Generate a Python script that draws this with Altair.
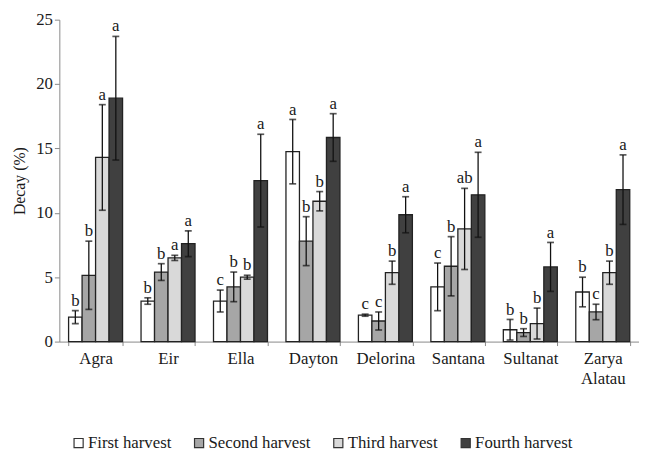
import altair as alt
import pandas as pd

cultivars = ["Agra", "Eir", "Ella", "Dayton", "Delorina", "Santana", "Sultanat", "Zarya Alatau"]
harvests = ["First harvest", "Second harvest", "Third harvest", "Fourth harvest"]

first = [1.9, 3.15, 3.15, 14.75, 2.05, 4.25, 0.92, 3.85]
first_err = [0.5, 0.25, 0.85, 2.5, 0.08, 1.85, 0.8, 1.15]
first_letters = ["b", "b", "c", "a", "c", "c", "b", "b"]

second = [5.15, 5.4, 4.25, 7.8, 1.6, 5.85, 0.7, 2.3]
second_err = [2.65, 0.65, 1.15, 1.9, 0.7, 2.3, 0.3, 0.6]
second_letters = ["b", "b", "b", "b", "c", "b", "b", "c"]

third = [14.3, 6.5, 5.0, 10.9, 5.35, 8.75, 1.4, 5.35]
third_err = [4.1, 0.2, 0.15, 0.75, 0.9, 3.15, 1.2, 0.9]
third_letters = ["a", "a", "b", "b", "b", "ab", "b", "b"]

fourth = [18.9, 7.6, 12.5, 15.85, 9.85, 11.4, 5.8, 11.8]
fourth_err = [4.8, 1.0, 3.6, 1.85, 1.4, 3.3, 1.9, 2.7]
fourth_letters = ["a", "a", "a", "a", "a", "a", "a", "a"]

colors = ["#ffffff", "#a6a6a6", "#d9d9d9", "#404040"]

rows = []
for h, vals, errs, lets in zip(
    harvests,
    [first, second, third, fourth],
    [first_err, second_err, third_err, fourth_err],
    [first_letters, second_letters, third_letters, fourth_letters],
):
    for c, v, e, l in zip(cultivars, vals, errs, lets):
        rows.append({"cultivar": c, "harvest": h, "value": v,
                     "lo": max(v - e, 0), "hi": v + e, "letter": l})
df = pd.DataFrame(rows)

FONT = "Liberation Serif, Times New Roman, serif"
TXT = "#1a1a1a"

x_enc = alt.X(
    "cultivar:N", sort=cultivars, title=None,
    scale=alt.Scale(paddingInner=0.255, paddingOuter=0.1275),
    axis=alt.Axis(labelAngle=0, labelFont=FONT, labelFontSize=17, labelColor=TXT,
                  labelExpr="split(datum.label, ' ')", labelPadding=5,
                  tickBand="extent", tickSize=4, tickColor="#888888",
                  domainColor="#888888", labelLineHeight=20),
)
xoff = alt.XOffset("harvest:N", sort=harvests,
                   scale=alt.Scale(paddingInner=0, paddingOuter=0))

y_scale = alt.Scale(domain=[0, 25])
y_axis = alt.Axis(values=[0, 5, 10, 15, 20, 25], grid=False, labelFont=FONT,
                  labelFontSize=17, labelColor=TXT, tickSize=5, labelPadding=2,
                  tickColor="#888888", domainColor="#888888",
                  titleFont=FONT, titleFontSize=16, titleFontWeight="normal",
                  titleColor=TXT, titlePadding=8)
TITLE = "Decay (%)"

base = alt.Chart(df).encode(x=x_enc, xOffset=xoff)

bars = base.mark_bar(stroke="#222222", strokeWidth=1.3).encode(
    y=alt.Y("value:Q", scale=y_scale, axis=y_axis, title=TITLE),
    color=alt.Color(
        "harvest:N", sort=harvests,
        scale=alt.Scale(domain=harvests, range=colors),
        legend=alt.Legend(
            title=None, orient="none", direction="horizontal",
            legendX=11, legendY=420, labelFont=FONT, labelFontSize=17,
            labelColor=TXT, symbolType="square", symbolSize=85,
            symbolStrokeColor="#333333", symbolStrokeWidth=1.2,
            labelOffset=1, columnPadding=19,
        ),
    ),
)

rules = base.mark_rule(color="#111111", strokeWidth=1.3).encode(
    y=alt.Y("lo:Q", scale=y_scale, axis=y_axis, title=TITLE), y2="hi:Q")
caps_hi = base.mark_tick(color="#111111", size=7, thickness=1.7).encode(
    y=alt.Y("hi:Q", scale=y_scale, axis=y_axis, title=TITLE))
caps_lo = base.mark_tick(color="#111111", size=7, thickness=1.7).encode(
    y=alt.Y("lo:Q", scale=y_scale, axis=y_axis, title=TITLE))
labels = base.mark_text(font=FONT, fontSize=17, color=TXT, baseline="alphabetic",
                        dy=-5).encode(
    y=alt.Y("hi:Q", scale=y_scale, axis=y_axis, title=TITLE), text="letter:N")

chart = alt.layer(bars, rules, caps_hi, caps_lo, labels).properties(
    width=587, height=326,
    autosize=alt.AutoSizeParams(type="none"),
    padding={"left": 52, "top": 9, "right": 0, "bottom": 110},
).configure_view(stroke=None)

chart.save("out.html", embed_options={"renderer": "svg", "actions": False})
